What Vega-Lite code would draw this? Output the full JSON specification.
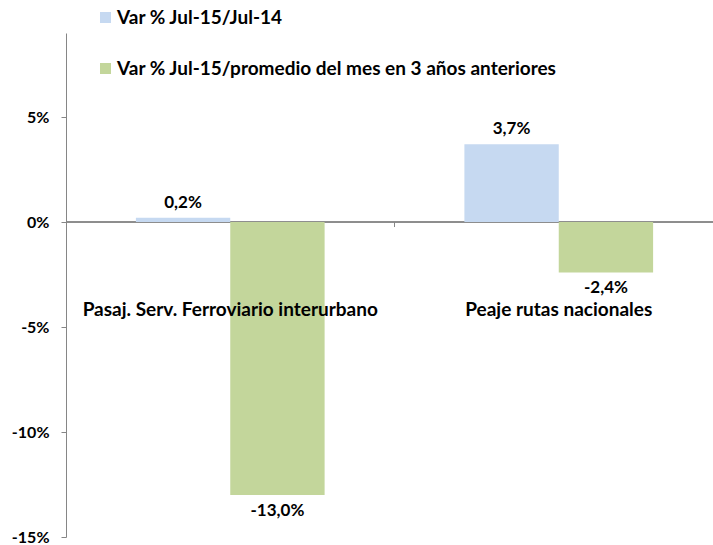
{
  "$schema": "https://vega.github.io/schema/vega-lite/v6.json",
  "autosize": {"type": "none"},
  "padding": {"left": 66, "top": 33, "right": 0, "bottom": 8},
  "width": 647,
  "height": 504,
  "background": "white",
  "config": {
    "view": {"stroke": null},
    "font": "Lato"
  },
  "data": {
    "values": [
      {"cat": "Pasaj. Serv. Ferroviario interurbano", "serie": "Var % Jul-15/Jul-14", "v": 0.2},
      {"cat": "Pasaj. Serv. Ferroviario interurbano", "serie": "Var % Jul-15/promedio del mes en 3 años anteriores", "v": -13.0},
      {"cat": "Peaje rutas nacionales", "serie": "Var % Jul-15/Jul-14", "v": 3.7},
      {"cat": "Peaje rutas nacionales", "serie": "Var % Jul-15/promedio del mes en 3 años anteriores", "v": -2.4}
    ]
  },
  "transform": [
    {"calculate": "replace(replace(format(datum.v, '.1f'), '.', ','), '\u2212', '-') + '%'", "as": "label"}
  ],
  "resolve": {"scale": {"x": "independent"}},
  "layer": [
    {
      "mark": {"type": "rule", "color": "#868686", "strokeWidth": 1},
      "encoding": {
        "y": {"datum": 0, "type": "quantitative"}
      }
    },
    {
      "mark": {"type": "bar"},
      "encoding": {
        "x": {
          "field": "cat",
          "type": "nominal",
          "sort": null,
          "scale": {"range": [0, 657], "paddingInner": 0.4255, "paddingOuter": 0.21275},
          "axis": {
            "title": null,
            "orient": "bottom",
            "offset": -315,
            "zindex": 1,
            "domain": false,
            "ticks": false,
            "labelAngle": 0,
            "labelLimit": 0,
            "labelPadding": 78,
            "labelFont": "Lato",
            "labelFontWeight": "bold",
            "labelFontSize": 19,
            "labelColor": "#000000"
          }
        },
        "xOffset": {"field": "serie", "type": "nominal", "sort": null},
        "y": {
          "field": "v",
          "type": "quantitative",
          "scale": {"domain": [-15, 9], "nice": false, "zero": true},
          "axis": {
            "title": null,
            "values": [-15, -10, -5, 0, 5],
            "labelExpr": "datum.value + '%'",
            "grid": false,
            "domainColor": "#868686",
            "tickColor": "#868686",
            "tickSize": 5,
            "labelPadding": 12,
            "labelFont": "Lato",
            "labelFontWeight": "bold",
            "labelFontSize": 16,
            "labelColor": "#000000"
          }
        },
        "color": {
          "field": "serie",
          "type": "nominal",
          "sort": null,
          "scale": {
            "domain": ["Var % Jul-15/Jul-14", "Var % Jul-15/promedio del mes en 3 años anteriores"],
            "range": ["#C6D9F1", "#C3D69B"]
          },
          "legend": {
            "title": null,
            "orient": "none",
            "legendX": 30,
            "legendY": -25,
            "direction": "vertical",
            "symbolType": "square",
            "symbolSize": 121,
            "symbolStrokeWidth": 0,
            "rowPadding": 31,
            "labelOffset": 2,
            "labelLimit": 0,
            "labelFont": "Lato",
            "labelFontWeight": "bold",
            "labelFontSize": 19,
            "labelColor": "#000000"
          }
        }
      }
    },
    {
      "mark": {
        "type": "text",
        "font": "Lato",
        "fontWeight": "bold",
        "fontSize": 17,
        "color": "#000000",
        "baseline": {"expr": "datum.v < 0 ? 'top' : 'bottom'"},
        "dy": {"expr": "datum.v < 0 ? 8 : -6"}
      },
      "encoding": {
        "x": {
          "field": "cat",
          "type": "nominal",
          "sort": null,
          "scale": {"range": [0, 657], "paddingInner": 0.4255, "paddingOuter": 0.21275},
          "axis": null
        },
        "xOffset": {"field": "serie", "type": "nominal", "sort": null},
        "y": {"field": "v", "type": "quantitative"},
        "text": {"field": "label", "type": "nominal"}
      }
    },
    {
      "mark": {"type": "rule", "color": "#868686", "strokeWidth": 1},
      "data": {"values": [{"boundary": 1}]},
      "encoding": {
        "x": {
          "field": "boundary",
          "type": "quantitative",
          "scale": {"domain": [0, 2], "range": [0, 657], "nice": false, "zero": true},
          "axis": null
        },
        "y": {"datum": 0, "type": "quantitative"},
        "y2": {"datum": -0.24}
      }
    }
  ]
}
